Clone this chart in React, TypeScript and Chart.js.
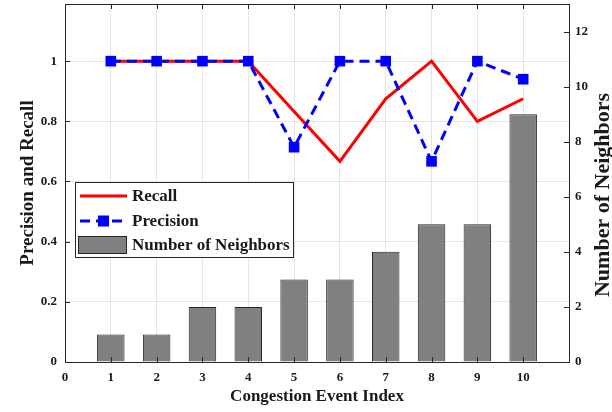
import React, { useEffect, useRef } from 'react';
import { Chart, registerables } from 'chart.js';

Chart.register(...registerables);

// ---- data ----
const eventIndex = [1, 2, 3, 4, 5, 6, 7, 8, 9, 10];
const neighbors = [1, 1, 2, 2, 3, 3, 4, 5, 5, 9];
const recall = [1, 1, 1, 1, 0.833, 0.667, 0.875, 1, 0.8, 0.875];
const precision = [1, 1, 1, 1, 0.714, 1, 1, 0.667, 1, 0.94];

const xTicks = [0, 1, 2, 3, 4, 5, 6, 7, 8, 9, 10, 11];
const xTickLabels = ['0', '1', '2', '3', '4', '5', '6', '7', '8', '9', '10', ''];
const leftTicks = [0, 0.2, 0.4, 0.6, 0.8, 1];
const leftTickLabels = ['0', '0.2', '0.4', '0.6', '0.8', '1'];
const rightTicks = [0, 2, 4, 6, 8, 10, 12];

const xTitle = 'Congestion Event Index';
const leftTitle = 'Precision and Recall';
const rightTitle = 'Number of Neighbors';
const legendLabels = ['Recall', 'Precision', 'Number of Neighbors'];

const SERIF = '"Liberation Serif", "Times New Roman", serif';
const TEXT = '#1a1a1a';
const AXIS = '#262626';
const GRID = '#e6e6e6';
const RED = '#ff0000';
const BLUE = '#0000ff';
const BAR = '#808080';

const crisp = (v: number) => Math.round(v) + 0.5;

const noPad = (s: any) => {
  s.paddingTop = 0;
  s.paddingBottom = 0;
  s.paddingLeft = 0;
  s.paddingRight = 0;
};

const framePlugin = {
  id: 'framePlugin',
  afterDatasetsDraw(chart: any) {
    const { ctx, chartArea, scales } = chart;
    const { left, right, top, bottom } = chartArea;
    ctx.save();
    ctx.strokeStyle = AXIS;
    ctx.lineWidth = 1;
    ctx.strokeRect(crisp(left), crisp(top), Math.round(right) - Math.round(left), Math.round(bottom) - Math.round(top));
    const tl = 5;
    ctx.beginPath();
    xTicks.forEach((v) => {
      const px = crisp(scales.x.getPixelForValue(v));
      ctx.moveTo(px, bottom);
      ctx.lineTo(px, bottom - tl);
      ctx.moveTo(px, top);
      ctx.lineTo(px, top + tl);
    });
    leftTicks.forEach((v) => {
      const py = crisp(scales.y.getPixelForValue(v));
      ctx.moveTo(left, py);
      ctx.lineTo(left + tl, py);
    });
    rightTicks.forEach((v) => {
      const py = crisp(scales.y1.getPixelForValue(v));
      ctx.moveTo(right, py);
      ctx.lineTo(right - tl, py);
    });
    ctx.stroke();
    ctx.restore();
  },
  afterDraw(chart: any) {
    const { ctx } = chart;
    ctx.save();
    // right axis title (reads bottom to top)
    ctx.fillStyle = TEXT;
    ctx.font = `bold 22px ${SERIF}`;
    ctx.textAlign = 'center';
    ctx.textBaseline = 'middle';
    ctx.translate(603, 195);
    ctx.rotate(-Math.PI / 2);
    ctx.fillText(rightTitle, 0, 0);
    ctx.restore();

    // legend
    ctx.save();
    const bx = 75, by = 182, bw = 218, bh = 75;
    ctx.fillStyle = '#ffffff';
    ctx.fillRect(bx, by, bw, bh);
    ctx.strokeStyle = AXIS;
    ctx.lineWidth = 1;
    ctx.strokeRect(crisp(bx), crisp(by), bw, bh);
    const rows = [196, 221, 245];
    // recall
    ctx.strokeStyle = RED;
    ctx.lineWidth = 3;
    ctx.beginPath();
    ctx.moveTo(80, rows[0]);
    ctx.lineTo(127, rows[0]);
    ctx.stroke();
    // precision
    ctx.strokeStyle = BLUE;
    ctx.setLineDash([10, 6]);
    ctx.beginPath();
    ctx.moveTo(80, rows[1]);
    ctx.lineTo(127, rows[1]);
    ctx.stroke();
    ctx.setLineDash([]);
    ctx.fillStyle = BLUE;
    ctx.fillRect(98, rows[1] - 5.5, 11, 11);
    // bars
    ctx.fillStyle = BAR;
    ctx.fillRect(78, 236, 48, 17);
    ctx.strokeStyle = AXIS;
    ctx.lineWidth = 1;
    ctx.strokeRect(78.5, 236.5, 48, 17);
    // text
    ctx.fillStyle = TEXT;
    ctx.font = `bold 17px ${SERIF}`;
    ctx.textAlign = 'left';
    ctx.textBaseline = 'middle';
    legendLabels.forEach((t, i) => ctx.fillText(t, 132, rows[i] + 1));
    ctx.restore();
  },
};

export default function App() {
  const ref = useRef<HTMLCanvasElement | null>(null);

  useEffect(() => {
    document.body.style.margin = '0';
    const canvas = ref.current;
    if (!canvas) return;
    const chart = new Chart(canvas, {
      type: 'bar',
      data: {
        datasets: [
          {
            type: 'line',
            label: legendLabels[0],
            data: eventIndex.map((x, i) => ({ x, y: recall[i] })),
            yAxisID: 'y',
            borderColor: RED,
            backgroundColor: RED,
            borderWidth: 3,
            pointRadius: 0,
            tension: 0,
            order: 1,
          } as any,
          {
            type: 'line',
            label: legendLabels[1],
            data: eventIndex.map((x, i) => ({ x, y: precision[i] })),
            yAxisID: 'y',
            borderColor: BLUE,
            backgroundColor: BLUE,
            borderWidth: 3,
            borderDash: [10, 6],
            pointStyle: 'rect',
            pointRadius: 7.5,
            pointBorderWidth: 0,
            pointBackgroundColor: BLUE,
            tension: 0,
            order: 0,
          } as any,
          {
            type: 'bar',
            label: legendLabels[2],
            data: eventIndex.map((x, i) => ({ x, y: neighbors[i] })),
            yAxisID: 'y1',
            backgroundColor: BAR,
            borderColor: AXIS,
            borderWidth: 1,
            categoryPercentage: 1,
            barPercentage: 0.6,
            order: 2,
          } as any,
        ],
      },
      options: {
        responsive: false,
        animation: false,
        devicePixelRatio: 1,
        layout: { autoPadding: false, padding: { top: 4, left: 0, right: 0, bottom: 0 } },
        plugins: { legend: { display: false }, tooltip: { enabled: false } },
        scales: {
          x: {
            type: 'linear',
            min: 0,
            max: 11,
            offset: false,
            afterBuildTicks: (s: any) => {
              s.ticks = xTicks.map((v) => ({ value: v }));
            },
            afterFit: (s: any) => {
              s.height = 50;
              noPad(s);
            },
            grid: { color: GRID, drawTicks: false, offset: false },
            border: { display: false },
            ticks: {
              color: TEXT,
              font: { family: SERIF, weight: 'bold', size: 13 },
              padding: 8,
              maxRotation: 0,
              autoSkip: false,
              callback: (v: any) => xTickLabels[xTicks.indexOf(Number(v))] ?? '',
            },
            title: {
              display: true,
              text: xTitle,
              color: TEXT,
              font: { family: SERIF, weight: 'bold', size: 17 },
              padding: { top: 0, bottom: 5 },
            },
          },
          y: {
            type: 'linear',
            position: 'left',
            min: 0,
            max: 1.19,
            afterBuildTicks: (s: any) => {
              s.ticks = leftTicks.map((v) => ({ value: v }));
            },
            afterFit: (s: any) => {
              s.width = 65;
              noPad(s);
            },
            grid: { color: GRID, drawTicks: false },
            border: { display: false },
            ticks: {
              color: TEXT,
              font: { family: SERIF, weight: 'bold', size: 13 },
              padding: 8,
              autoSkip: false,
              callback: (v: any) => {
                const i = leftTicks.findIndex((t) => Math.abs(t - Number(v)) < 1e-6);
                return i >= 0 ? leftTickLabels[i] : '';
              },
            },
            title: {
              display: true,
              text: leftTitle,
              color: TEXT,
              font: { family: SERIF, weight: 'bold', size: 19 },
              padding: { top: 17, bottom: 0 },
            },
          },
          y1: {
            type: 'linear',
            position: 'right',
            min: 0,
            max: 13,
            afterBuildTicks: (s: any) => {
              s.ticks = rightTicks.map((v) => ({ value: v }));
            },
            afterFit: (s: any) => {
              s.width = 43;
              noPad(s);
            },
            grid: { drawOnChartArea: false, drawTicks: false },
            border: { display: false },
            ticks: {
              color: TEXT,
              font: { family: SERIF, weight: 'bold', size: 13 },
              padding: 6,
              autoSkip: false,
            },
          },
        },
      } as any,
      plugins: [framePlugin],
    });
    return () => chart.destroy();
  }, []);

  return <canvas ref={ref} width={612} height={412} style={{ display: 'block', width: 612, height: 412 }} />;
}
